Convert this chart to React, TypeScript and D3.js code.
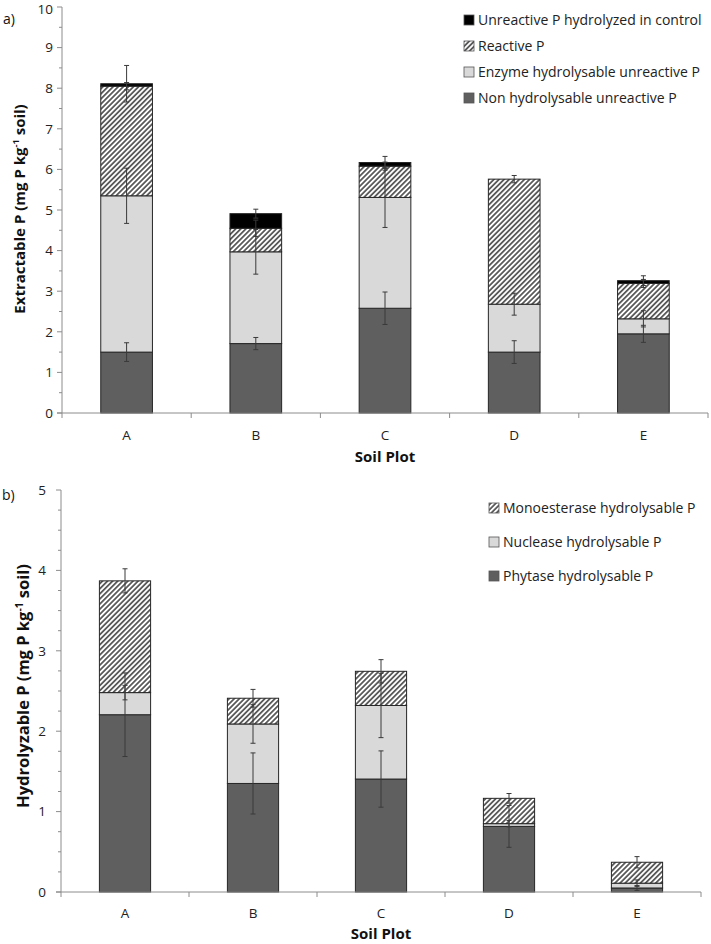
import React from "react";
import * as d3 from "d3";

const categories = ["A", "B", "C", "D", "E"];

// Panel a) stacked segments (bottom -> top)
const nonHydro = [1.5, 1.71, 2.58, 1.5, 1.95];
const enzymeHydro = [3.85, 2.26, 2.73, 1.18, 0.37];
const reactiveP = [2.7, 0.58, 0.77, 3.08, 0.87];
const controlHydro = [0.06, 0.36, 0.09, 0, 0.07];
const nonHydroErr = [0.23, 0.15, 0.4, 0.28, 0.21];
const enzymeHydroErr = [0.68, 0.55, 0.74, 0.27, 0.2];
const reactivePErr = [0.09, 0.2, 0.1, 0.09, 0.1];
const controlHydroErr = [0.45, 0.11, 0.15, 0, 0.12];

// Panel b)
const phytase = [2.205, 1.35, 1.405, 0.816, 0.05];
const nuclease = [0.275, 0.74, 0.915, 0.034, 0.06];
const monoesterase = [1.39, 0.32, 0.425, 0.315, 0.26];
const phytaseErr = [0.52, 0.38, 0.35, 0.26, 0.03];
const nucleaseErr = [0.09, 0.24, 0.4, 0.04, 0.04];
const monoesteraseErr = [0.15, 0.11, 0.145, 0.06, 0.07];

const topTicks = [0, 1, 2, 3, 4, 5, 6, 7, 8, 9, 10];
const bottomTicks = [0, 1, 2, 3, 4, 5];

const DARK = "#5f5f5f";
const LIGHT = "#d9d9d9";
const BLACK = "#000000";
const FONT = "'Open Sans', 'Noto Sans', sans-serif";

type Series = { key: string; label: string; values: number[]; errs: number[]; fill: string };

function Panel(props: {
  series: Series[];
  legendOrder: string[];
  yMax: number;
  ticks: number[];
  minorStep: number;
  x0: number; x1: number; yBase: number; yTop: number;
  labelGap: number;
  catY: number; titleY: number; titleX: number;
  yTitle: string; yTitleX: number; yTitleY: number; yTitleSize: number;
  tag: string; tagX: number; tagY: number;
  legendX: number; legendY: number; legendStep: number;
}) {
  const p = props;
  const x = d3.scaleBand().domain(categories).range([p.x0, p.x1]).paddingInner(0).paddingOuter(0);
  const y = d3.scaleLinear().domain([0, p.yMax]).range([p.yBase, p.yTop]);
  const rows = categories.map((c, i) => {
    const o: any = { cat: c };
    p.series.forEach((s) => (o[s.key] = s.values[i]));
    return o;
  });
  const stack = d3.stack<any>().keys(p.series.map((s) => s.key));
  const stacked = stack(rows);
  const bw = x.bandwidth() * 0.4;
  const minor = d3.range(0, p.yMax + 1e-9, p.minorStep).filter((v) => Math.abs(v - Math.round(v)) > 1e-6);
  const boundaries = [...categories.map((c) => x(c) as number), p.x1];
  const axisColor = "#8c8c8c";
  return (
    <g>
      {stacked.map((layer, li) => {
        const s = p.series[li];
        return layer.map((d, i) => {
          if (d[1] - d[0] <= 0) return null;
          const cx = (x(categories[i]) as number) + x.bandwidth() / 2;
          return (
            <rect key={s.key + i} x={cx - bw / 2} y={y(d[1])} width={bw} height={y(d[0]) - y(d[1])}
              fill={s.fill} stroke="#262626" strokeWidth={1} />
          );
        });
      })}
      {stacked.map((layer, li) => {
        const s = p.series[li];
        return layer.map((d, i) => {
          const e = s.errs[i];
          if (!e || d[1] - d[0] <= 0) return null;
          const cx = (x(categories[i]) as number) + x.bandwidth() / 2;
          const ya = y(d[1] + e), yb = y(d[1] - e);
          return (
            <g key={"e" + s.key + i} stroke="#3a3a3a" strokeWidth={1}>
              <line x1={cx} x2={cx} y1={ya} y2={yb} />
              <line x1={cx - 2.5} x2={cx + 2.5} y1={ya} y2={ya} />
              <line x1={cx - 2.5} x2={cx + 2.5} y1={yb} y2={yb} />
            </g>
          );
        });
      })}
      <line x1={p.x0} x2={p.x0} y1={p.yTop} y2={p.yBase} stroke={axisColor} strokeWidth={1} />
      {p.ticks.map((t) => (
        <g key={"t" + t}>
          <line x1={p.x0 - 5} x2={p.x0} y1={y(t)} y2={y(t)} stroke={axisColor} />
          <text x={p.x0 - p.labelGap} y={Math.max(y(t), 9)} dy="0.36em" textAnchor="end" fontSize={13.5} fontFamily={FONT} fill="#222">{t}</text>
        </g>
      ))}
      {minor.map((t) => (
        <line key={"m" + t} x1={p.x0 - 3} x2={p.x0} y1={y(t)} y2={y(t)} stroke={axisColor} />
      ))}
      <line x1={p.x0 - 5} x2={p.x1} y1={p.yBase} y2={p.yBase} stroke={axisColor} strokeWidth={1} />
      {boundaries.map((b, i) => (
        <line key={"b" + i} x1={b} x2={b} y1={p.yBase} y2={p.yBase + 5} stroke={axisColor} />
      ))}
      {categories.map((c) => (
        <text key={"c" + c} x={(x(c) as number) + x.bandwidth() / 2} y={p.catY} textAnchor="middle" fontSize={13.5} fontFamily={FONT} fill="#222">{c}</text>
      ))}
      <text x={p.titleX} y={p.titleY} textAnchor="middle" fontSize={15} fontWeight="bold" fontFamily={FONT} fill="#111">Soil Plot</text>
      <text transform={`translate(${p.yTitleX},${p.yTitleY}) rotate(-90)`} textAnchor="middle" fontSize={p.yTitleSize} fontWeight="bold" fontFamily={FONT} fill="#111">
        {p.yTitle} (mg P kg<tspan dy={-6} fontSize={p.yTitleSize * 0.62}>-1</tspan><tspan dy={6}> soil)</tspan>
      </text>
      <text x={p.tagX} y={p.tagY} fontSize={14} fontFamily={FONT} fill="#111">{p.tag}</text>
      {p.legendOrder.map((k, i) => {
        const s = p.series.find((ss) => ss.key === k)!;
        const ly = p.legendY + i * p.legendStep;
        return (
          <g key={"l" + k}>
            <rect x={p.legendX} y={ly - 5} width={10} height={10} fill={s.fill} stroke="#555" strokeWidth={0.8} />
            <text x={p.legendX + 14} y={ly} dy="0.36em" fontSize={14} fontFamily={FONT} fill="#222">{s.label}</text>
          </g>
        );
      })}
    </g>
  );
}

export default function App() {
  const topSeries: Series[] = [
    { key: "non", label: "Non hydrolysable unreactive P", values: nonHydro, errs: nonHydroErr, fill: DARK },
    { key: "enz", label: "Enzyme hydrolysable unreactive P", values: enzymeHydro, errs: enzymeHydroErr, fill: LIGHT },
    { key: "rea", label: "Reactive P", values: reactiveP, errs: reactivePErr, fill: "url(#hatch)" },
    { key: "ctl", label: "Unreactive P hydrolyzed in control", values: controlHydro, errs: controlHydroErr, fill: BLACK },
  ];
  const bottomSeries: Series[] = [
    { key: "phy", label: "Phytase hydrolysable P", values: phytase, errs: phytaseErr, fill: DARK },
    { key: "nuc", label: "Nuclease hydrolysable P", values: nuclease, errs: nucleaseErr, fill: LIGHT },
    { key: "mono", label: "Monoesterase hydrolysable P", values: monoesterase, errs: monoesteraseErr, fill: "url(#hatch)" },
  ];
  return (
    <svg width={711} height={944} style={{ position: "absolute", left: 0, top: 0, background: "#fff" }}>
      <defs>
        <pattern id="hatch" patternUnits="userSpaceOnUse" width={3.6} height={3.6} patternTransform="rotate(45)">
          <rect width={3.6} height={3.6} fill="#fff" />
          <line x1={0.9} x2={0.9} y1={0} y2={3.6} stroke="#1a1a1a" strokeWidth={1.3} />
        </pattern>
      </defs>
      <rect width={711} height={944} fill="#fff" />
      <Panel series={topSeries} legendOrder={["ctl", "rea", "enz", "non"]} yMax={10} ticks={topTicks} minorStep={0.5}
        x0={62} x1={708} yBase={413} yTop={7} labelGap={9}
        catY={440} titleY={462} titleX={385}
        yTitle="Extractable P" yTitleX={25} yTitleY={209} yTitleSize={15}
        tag="a)" tagX={3} tagY={24}
        legendX={464} legendY={20} legendStep={26} />
      <Panel series={bottomSeries} legendOrder={["mono", "nuc", "phy"]} yMax={5} ticks={bottomTicks} minorStep={0.25}
        x0={61} x1={701} yBase={892} yTop={490} labelGap={15}
        catY={918} titleY={939} titleX={381}
        yTitle="Hydrolyzable P" yTitleX={29} yTitleY={686} yTitleSize={16.5}
        tag="b)" tagX={2} tagY={500}
        legendX={489} legendY={508} legendStep={34} />
    </svg>
  );
}
